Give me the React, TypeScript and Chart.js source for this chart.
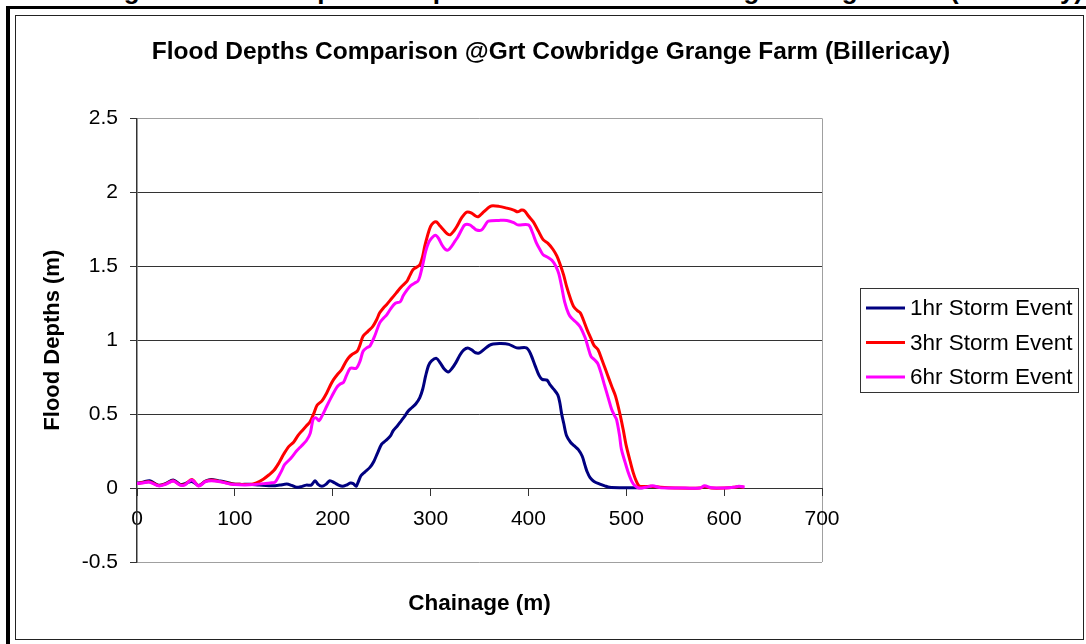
import React, { useEffect, useRef } from 'react';
import { Chart, registerables, layouts } from 'chart.js';

Chart.register(...registerables);

const FONT = '"Liberation Sans", Arial, Helvetica, sans-serif';

const pageCaption = 'Figure 4 Flood depths comparison at Great Cowbridge Grange Farm (Billericay)';
const chartTitle = 'Flood Depths Comparison @Grt Cowbridge Grange Farm (Billericay)';
const xAxisTitle = 'Chainage (m)';
const yAxisTitle = 'Flood Depths (m)';

const seriesLabels = ['1hr Storm Event', '3hr Storm Event', '6hr Storm Event'];
const seriesColors = ['#000080', '#FF0000', '#FF00FF'];

const xMin = 0;
const xMax = 700;
const xStep = 100;
const yMin = -0.5;
const yMax = 2.5;
const yStep = 0.5;

const chainage1hr = [0, 6, 13, 22, 29, 37, 44, 49, 56, 63, 70, 76, 83, 90, 97, 105, 115, 125, 139, 146, 153, 158, 163, 168, 173, 178, 182, 185, 189, 193, 197, 202, 206, 210, 214, 218, 221, 224, 226, 229, 233, 238, 242, 246, 250, 254, 259, 262, 266, 270, 274, 277, 281, 285, 289, 292, 295, 298, 301, 306, 310, 314, 318, 322, 326, 330, 334, 338, 342, 346, 350, 355, 360, 364, 372, 380, 388, 398, 402, 407, 411, 414, 419, 422, 426, 430, 432, 434, 436, 439, 443, 447, 451, 455, 458, 460, 463, 467, 473, 478, 483, 495, 510, 518];
const depth1hr = [0.032, 0.04, 0.05, 0.02, 0.03, 0.055, 0.025, 0.03, 0.045, 0.018, 0.047, 0.058, 0.05, 0.042, 0.03, 0.025, 0.025, 0.02, 0.015, 0.02, 0.027, 0.018, 0.005, 0.01, 0.02, 0.02, 0.05, 0.025, 0.012, 0.025, 0.05, 0.035, 0.02, 0.012, 0.02, 0.034, 0.03, 0.012, 0.04, 0.085, 0.11, 0.14, 0.18, 0.24, 0.297, 0.32, 0.353, 0.39, 0.42, 0.455, 0.49, 0.52, 0.545, 0.57, 0.612, 0.67, 0.76, 0.83, 0.86, 0.877, 0.845, 0.805, 0.785, 0.81, 0.85, 0.9, 0.935, 0.948, 0.935, 0.915, 0.915, 0.94, 0.965, 0.975, 0.978, 0.972, 0.948, 0.948, 0.91, 0.825, 0.76, 0.735, 0.73, 0.7, 0.667, 0.63, 0.58, 0.5, 0.44, 0.353, 0.31, 0.285, 0.26, 0.215, 0.15, 0.11, 0.07, 0.045, 0.027, 0.015, 0.005, 0.002, 0.002, 0.003];

const chainage3hr = [0, 6, 13, 22, 29, 37, 44, 49, 56, 63, 70, 76, 83, 90, 97, 105, 115, 122, 129, 135, 140, 145, 150, 155, 160, 165, 169, 173, 177, 181, 184, 189, 194, 198, 201, 205, 209, 213, 216, 220, 225, 228, 231, 236, 241, 245, 248, 252, 255, 260, 265, 270, 276, 279, 282, 286, 289, 292, 294, 297, 300, 303, 306, 310, 314, 317, 320, 324, 327, 332, 337, 342, 346, 349, 353, 358, 362, 370, 378, 385, 389, 393, 396, 400, 405, 410, 415, 420, 425, 429, 432, 436, 439, 443, 446, 450, 453, 456, 460, 464, 467, 471, 475, 480, 485, 489, 494, 497, 500, 504, 507, 510, 513, 518, 525, 535, 550, 575, 580, 587, 600, 610, 615, 620];
const depth3hr = [0.03, 0.038, 0.042, 0.018, 0.027, 0.05, 0.022, 0.025, 0.058, 0.016, 0.045, 0.055, 0.047, 0.038, 0.027, 0.025, 0.025, 0.035, 0.06, 0.09, 0.12, 0.17, 0.23, 0.28, 0.31, 0.36, 0.39, 0.42, 0.45, 0.51, 0.56, 0.59, 0.645, 0.7, 0.735, 0.77, 0.8, 0.85, 0.88, 0.905, 0.925, 0.97, 1.027, 1.06, 1.094, 1.14, 1.185, 1.22, 1.24, 1.28, 1.32, 1.36, 1.4, 1.44, 1.477, 1.495, 1.51, 1.57, 1.634, 1.71, 1.77, 1.795, 1.8, 1.77, 1.74, 1.72, 1.713, 1.74, 1.77, 1.83, 1.866, 1.86, 1.84, 1.836, 1.86, 1.89, 1.908, 1.905, 1.893, 1.88, 1.868, 1.88, 1.875, 1.84, 1.8, 1.74, 1.68, 1.655, 1.615, 1.57, 1.52, 1.44, 1.364, 1.28, 1.23, 1.2, 1.185, 1.14, 1.07, 1.01, 0.965, 0.937, 0.87, 0.78, 0.69, 0.622, 0.487, 0.39, 0.285, 0.18, 0.106, 0.05, 0.015, 0.01, 0.012, 0.005, 0.0, 0.0, 0.01, 0.0, 0.0, 0.005, 0.01, 0.005];

const chainage6hr = [0, 6, 13, 22, 29, 37, 44, 49, 56, 63, 70, 76, 83, 90, 97, 105, 115, 122, 129, 136, 141, 144, 148, 151, 157, 163, 168, 173, 177, 180, 183, 186, 190, 194, 199, 204, 208, 211, 214, 218, 224, 228, 231, 235, 238, 243, 248, 252, 255, 259, 264, 269, 272, 276, 280, 284, 287, 289, 292, 295, 298, 301, 305, 308, 312, 315, 318, 322, 325, 328, 332, 335, 340, 344, 347, 352, 356, 359, 370, 378, 385, 389, 400, 404, 408, 412, 415, 420, 424, 428, 431, 434, 437, 441, 444, 449, 453, 458, 461, 464, 468, 471, 475, 478, 482, 485, 488, 490, 493, 495, 499, 502, 506, 509, 513, 520, 527, 534, 545, 560, 575, 580, 587, 600, 610, 615, 621];
const depth6hr = [0.03, 0.035, 0.04, 0.015, 0.025, 0.048, 0.02, 0.022, 0.055, 0.014, 0.043, 0.05, 0.045, 0.035, 0.025, 0.022, 0.022, 0.025, 0.03, 0.035, 0.04, 0.07, 0.12, 0.16, 0.2, 0.25, 0.285, 0.32, 0.37, 0.465, 0.475, 0.455, 0.5, 0.555, 0.62, 0.68, 0.705, 0.715, 0.76, 0.81, 0.81, 0.86, 0.925, 0.95, 0.96, 1.03, 1.117, 1.15, 1.17, 1.21, 1.25, 1.26, 1.3, 1.34, 1.37, 1.387, 1.4, 1.43, 1.51, 1.6, 1.66, 1.69, 1.71, 1.69, 1.64, 1.615, 1.61, 1.64, 1.67, 1.7, 1.75, 1.78, 1.78, 1.76, 1.745, 1.745, 1.78, 1.805, 1.81, 1.81, 1.795, 1.78, 1.78, 1.73, 1.66, 1.61, 1.578, 1.56, 1.54, 1.5, 1.45, 1.36, 1.26, 1.18, 1.15, 1.12, 1.09, 1.016, 0.95, 0.89, 0.865, 0.84, 0.76, 0.69, 0.6, 0.533, 0.49, 0.465, 0.36, 0.263, 0.17, 0.106, 0.04, 0.015, 0.0, 0.005, 0.015, 0.003, 0.0, 0.0, 0.0, 0.015, 0.002, 0.0, 0.005, 0.012, 0.008];

const seriesChainage = [chainage1hr, chainage3hr, chainage6hr];
const seriesDepth = [depth1hr, depth3hr, depth6hr];
const seriesDrawOrder = [2, 1, 0];

function makeLegendBox(chart: any) {
  const box: any = {
    position: 'right',
    weight: 0,
    fullSize: false,
    options: { stackWeight: 1 },
    left: 0, top: 0, right: 0, bottom: 0, width: 0, height: 0,
    isHorizontal() { return false; },
    getPadding() { return { top: 0, left: 0, bottom: 0, right: 0 }; },
    update(_maxWidth: number, maxHeight: number) {
      this.width = 250;
      this.height = maxHeight;
    },
    draw() {
      const ctx = chart.ctx;
      const ca = chart.chartArea;
      const bx = Math.round(this.left + 38);
      const bw = 218;
      const bh = 104;
      const by = Math.round((ca.top + ca.bottom) / 2 - 52);
      ctx.save();
      ctx.strokeStyle = '#333333';
      ctx.lineWidth = 1;
      ctx.strokeRect(bx + 0.5, by + 0.5, bw, bh);
      chart.data.datasets.forEach((ds: any, i: number) => {
        const y = by + 20 + i * 34.5;
        ctx.strokeStyle = ds.borderColor;
        ctx.lineWidth = 3;
        ctx.beginPath();
        ctx.moveTo(bx + 6, y);
        ctx.lineTo(bx + 45, y);
        ctx.stroke();
        ctx.fillStyle = '#000000';
        ctx.font = `22.5px ${FONT}`;
        ctx.textBaseline = 'middle';
        ctx.textAlign = 'left';
        ctx.fillText(ds.label, bx + 50, y + 1);
      });
      ctx.restore();
    },
  };
  return box;
}

const legendBoxPlugin = {
  id: 'legendBoxPlugin',
  beforeInit(chart: any) {
    layouts.addBox(chart, makeLegendBox(chart));
  },
};

export default function App() {
  const canvasRef = useRef<HTMLCanvasElement | null>(null);

  useEffect(() => {
    if (!canvasRef.current) return;
    Chart.defaults.font.family = FONT;
    const datasets = seriesLabels.map((label, i) => ({
      label,
      data: seriesChainage[i].map((x, j) => ({ x, y: seriesDepth[i][j] })),
      borderColor: seriesColors[i],
      backgroundColor: seriesColors[i],
      borderWidth: 3,
      pointRadius: 0,
      pointHoverRadius: 0,
      tension: 0.3,
      fill: false,
      order: seriesDrawOrder[i],
    }));

    let chart: Chart | null = null;
    try {
      chart = new Chart(canvasRef.current, {
        type: 'line',
        data: { datasets },
        plugins: [legendBoxPlugin],
        options: {
          responsive: false,
          maintainAspectRatio: false,
          devicePixelRatio: 1,
          animation: false,
          events: [],
          layout: { padding: { left: 30, right: 14, top: 0, bottom: 0 } },
          plugins: {
            legend: { display: false },
            tooltip: { enabled: false },
            title: {
              display: true,
              text: chartTitle,
              color: '#000000',
              font: { size: 24.5, weight: 'bold', family: FONT },
              padding: { top: 38, bottom: 51 },
            },
            subtitle: {
              display: true,
              text: xAxisTitle,
              position: 'bottom',
              fullSize: false,
              color: '#000000',
              font: { size: 22.5, weight: 'bold', family: FONT },
              padding: { top: 28, bottom: 27 },
            },
          },
          scales: {
            x: {
              type: 'linear',
              min: xMin,
              max: xMax,
              position: { y: 0 },
              ticks: {
                stepSize: xStep,
                color: '#000000',
                font: { size: 21, family: FONT },
                padding: 12,
                maxRotation: 0,
                callback: (v: any) => String(v),
              },
              grid: {
                color: (c: any) => (c.tick && c.tick.value === xMax ? '#a0a0a0' : 'rgba(0,0,0,0)'),
                tickColor: '#333333',
                tickLength: 7,
                lineWidth: 1,
              },
              border: { color: '#333333', width: 1 },
            },
            y: {
              type: 'linear',
              min: yMin,
              max: yMax,
              ticks: {
                stepSize: yStep,
                color: '#000000',
                font: { size: 21, family: FONT },
                padding: 12,
                callback: (v: any) => String(v),
              },
              grid: {
                color: (c: any) => (c.tick && (c.tick.value === yMax || c.tick.value === yMin) ? '#a0a0a0' : '#333333'),
                tickColor: '#333333',
                tickLength: 7,
                lineWidth: 1,
              },
              border: { color: '#333333', width: 1.5 },
              title: {
                display: true,
                text: yAxisTitle,
                color: '#000000',
                font: { size: 22, weight: 'bold', family: FONT },
                padding: { top: 10, bottom: 0 },
              },
              afterFit: (s: any) => { s.width = 107; },
            },
          },
        } as any,
      });
    } catch (e) {
      console.error(e);
    }
    return () => { if (chart) chart.destroy(); };
  }, []);

  return (
    <div style={{ position: 'fixed', left: 0, top: 0, width: 1086, height: 644, overflow: 'hidden', background: '#ffffff' }}>
      <div
        style={{
          position: 'absolute', right: 3, top: -23, fontFamily: FONT, fontWeight: 'bold',
          fontSize: 26, lineHeight: '26px', whiteSpace: 'nowrap', color: '#000000',
        }}
      >
        {pageCaption}
      </div>
      <div style={{ position: 'absolute', left: 6, top: 6, width: 1200, height: 800, borderLeft: '4px solid #000', borderTop: '3px solid #000' }} />
      <div style={{ position: 'absolute', left: 15, top: 15, width: 1067, height: 623, border: '1px solid #222' }} />
      <canvas ref={canvasRef} width={1086} height={644} style={{ position: 'absolute', left: 0, top: 0, width: 1086, height: 644 }} />
    </div>
  );
}
